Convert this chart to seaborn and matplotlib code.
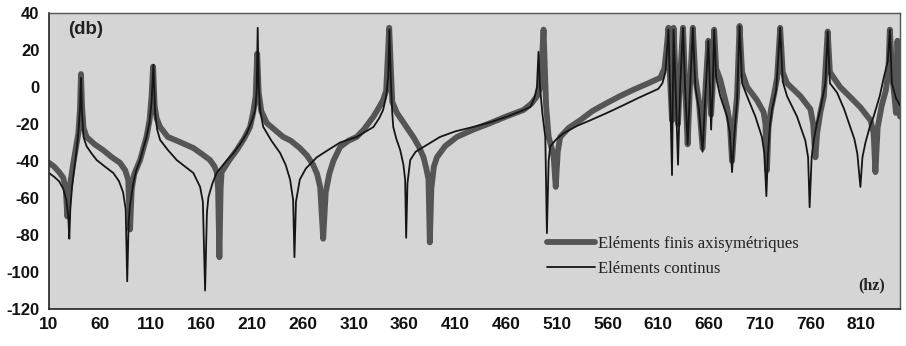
import matplotlib
matplotlib.use("Agg")
import matplotlib.pyplot as plt
import seaborn as sns

# Eléments finis axisymétriques (thick grey curve)
fe_hz = [10, 15, 20, 24, 26.5, 28, 29.5, 31.5, 34, 36.5, 38.9, 40.5, 41.5, 42.5, 44, 47, 55, 63, 72, 80,
         85, 88, 89.8, 91.5, 94, 99.7, 106, 109, 111, 112.5, 114, 116, 119.4, 127, 135.8, 144, 152.2, 160,
         168.6, 173, 175.2, 176.5, 177.8, 179, 180, 187, 195, 202, 208, 211, 213.5, 215, 216.5, 219,
         224.5, 232, 240.6, 248, 257, 264, 270, 274, 277, 280, 282.5, 286, 290, 296.7, 305, 313, 320,
         329.5, 335, 339, 342, 345, 348, 352.6, 360, 368.7, 374, 378.8, 381.5, 383.7, 385, 386.5, 389,
         392, 400, 411.7, 428, 444.5, 460, 477.3, 485, 490.5, 494, 497, 499.5, 502, 505, 507, 509, 511,
         513.4, 522, 533, 545, 559.5, 572, 585, 600, 612, 616, 618, 620, 621.5, 623.5, 625, 627, 629.4,
         631.5, 634.3, 636.5, 638.9, 641, 644, 646.5, 650, 653.6, 656, 659.3, 661, 662, 663.5, 665, 667,
         671, 677.7, 680.5, 682.6, 685, 687.5, 690, 692.5, 697.4, 707, 713.7, 715.5, 717, 718.5, 721,
         724, 727, 730, 732.5, 736.8, 750, 759.8, 762.5, 764.7, 766.4, 769.5, 773, 776.8, 779, 789, 800,
         809, 819, 822, 823.8, 826, 830, 834, 836.5, 838, 840.5, 842.5, 844, 845.5, 847, 848]
fe_db = [-41, -43, -46, -49, -55, -70, -58, -50, -41, -33, -25, -12, 7, -10, -22, -27, -31, -34, -38, -41,
         -45, -50, -77, -55, -47, -39.5, -27, -18, -5, 11, -10, -17, -21.6, -27, -29, -31, -33, -36,
         -39.5, -43, -46, -55, -92, -55, -46, -40, -34, -28, -21.6, -14, -5, 18, -3, -13,
         -19.5, -23, -27, -29, -33, -37, -42, -47, -54, -82, -57, -47, -40, -32.4, -29, -27, -23,
         -16, -11, -7, -2, 32, -8, -14, -20, -27, -32, -38, -44, -50, -84, -55, -43,
         -38, -32, -27, -23, -19.5, -16, -12.4, -9, -5, 0, 31, -10, -27, -33, -38, -54, -35,
         -27, -22, -18, -13, -8.6, -5, -1.6, 2, 5, 10, 20, 32, 5, -18, 32, 5, -20,
         5, 32, 0, -31, -2, 32, 5, -8, -33, -5, 25, 0, -15, 0, 31, 10,
         4, -11, -20, -40, -20, -5, 33, 8, 0, -7, -13.6, -20, -45, -22, -12,
         -4, 5, 32, 8, 2, -5, -12, -20, -38, -25, -14, -5, 30, 8, 0, -6,
         -11, -18, -25, -46, -22, -10, -2, 8, 31, 5, -5, -14, 25, -5, -16]

# Eléments continus (thin black curve)
ce_hz = [10, 15, 20, 24, 27, 29, 30, 31, 32.7, 35, 37, 39, 40.5, 41.5, 42.5, 44, 47, 52, 57, 65, 73.4,
         79, 83, 85.5, 87, 88.5, 89.8, 93, 96, 99.7, 103, 106, 109, 111, 112.8, 114.5, 116.5, 119.4, 127,
         135.8, 144, 152.2, 158.8, 161.5, 163.7, 165.5, 167, 171, 175, 183, 191.6, 198, 204.8, 210, 213,
         214.5, 215.5, 216.5, 218, 221, 229, 237.6, 243, 247.4, 250.4, 251.7, 253.2, 257, 263, 273.7, 285,
         296.7, 313, 329.5, 335, 339, 342, 344, 345.2, 346.5, 348, 349, 352, 355.8, 359, 360.7, 361.7,
         363, 365.7, 371, 378.8, 395, 410, 427.7, 445, 461, 475, 484, 488, 490.5, 492, 493.5, 496, 498.7,
         500.3, 502, 503.6, 510, 516.7, 530, 543, 559.5, 575, 590, 600, 610, 614, 617, 620, 621.5, 623.5,
         625, 627, 629.4, 631.5, 634.3, 636.5, 638.9, 641, 644, 646.5, 650, 653.6, 656, 659.3, 661, 662,
         663.5, 665, 667, 671, 677.7, 680.5, 682.6, 685, 687.5, 690, 692.5, 697.4, 705.6, 712, 714.5,
         716.4, 718, 720, 722, 726, 730, 732.5, 736.8, 746.6, 754.8, 757.5, 759, 761, 763, 766, 769.6,
         774.5, 776.8, 779, 786, 793, 799, 803, 806, 809, 811, 814, 818, 822, 828, 832, 836, 838, 840,
         844, 848]
ce_db = [-46.5, -48.5, -51, -55, -61, -70, -82, -66, -54, -44, -35, -24, -12, 5, -14, -27, -32, -36, -39.5, -43, -46.5,
         -51, -57, -66, -105, -72, -64, -52, -45, -39.5, -33, -27, -19, -8, 12, -14, -23, -28.6, -34,
         -39.5, -43, -46.5, -54, -62, -110, -68, -59.5, -52, -46.5, -41, -35.7, -31, -25, -18, -12.4,
         -2, 32, 0, -13, -21.6, -29, -35.7, -42, -50, -61, -92, -62, -50, -44, -38, -34,
         -30, -27, -21.6, -17, -12.4, -5, 5, 31, 5, -14, -21.6, -28, -34, -42, -50, -81.5,
         -52, -39.5, -35, -32.4, -27, -24, -21.6, -19, -16, -13, -10.8, -6, 0, 19, 0, -15, -27,
         -79, -40, -32, -28, -25, -21, -18, -14, -10, -6, -3.5, -1, 2, 8, 31, 0, -47.6,
         31, 0, -42, 0, 32, -2, -31, -4, 32, 0, -12, -35, -8, 25, -3, -23,
         -3, 31, 5, -5, -16, -25, -46, -25, -8, 33, 2, -5, -16, -27, -36,
         -59, -36, -20, -12, -2, 32, 3, -5, -16, -29, -38, -65, -38, -29, -20, -12,
         2, 30, 2, -3, -12, -21.6, -28, -36, -54, -38, -30, -22, -16, -5, 5, 14, 31, 2,
         -6, -10]

x_ticks = list(range(10, 811, 50))
y_ticks = list(range(-120, 41, 20))

sns.set_theme(style="white")
plt.rcParams["font.family"] = ["Liberation Sans", "DejaVu Sans"]
plt.rcParams["axes.unicode_minus"] = False

fig = plt.figure(figsize=(9.06, 3.46), dpi=100)
ax = fig.add_axes([49 / 906, 1 - 309 / 346, 851 / 906, 296 / 346])
ax.set_facecolor("#d5d5d5")

sns.lineplot(x=fe_hz, y=fe_db, ax=ax, estimator=None, sort=False, color="#555555",
             linewidth=4.2, label="Eléments finis axisymétriques")
sns.lineplot(x=ce_hz, y=ce_db, ax=ax, estimator=None, sort=False, color="#151515",
             linewidth=1.3, label="Eléments continus")

ax.set_xlim(10, 848)
ax.set_ylim(-120, 40)
ax.set_xticks(x_ticks)
ax.set_yticks(y_ticks)
ax.tick_params(axis="both", direction="inout", length=6, width=1, color="#222222", pad=3)
ax.tick_params(axis="x", labelsize=12.5)
ax.tick_params(axis="y", labelsize=12, pad=4)
for lab in ax.get_xticklabels() + ax.get_yticklabels():
    lab.set_fontweight("bold")
    lab.set_color("#111111")

for side in ["left", "bottom"]:
    ax.spines[side].set_color("#222222")
    ax.spines[side].set_linewidth(1.2)
for side in ["top", "right"]:
    ax.spines[side].set_color("#555555")
    ax.spines[side].set_linewidth(1.0)
    ax.spines[side].set_linestyle((0, (1.5, 1)))

ax.text(0.022, 0.943, "(db)", transform=ax.transAxes, fontsize=13.5, fontweight="bold",
        va="center", ha="left", color="#222222")
ax.text(0.951, 0.081, "(hz)", transform=ax.transAxes, fontsize=11.5, fontweight="bold",
        va="center", ha="left", color="#222222", family="Liberation Serif")

leg = ax.legend(loc="upper left", bbox_to_anchor=(547 / 906, 1 - 236 / 346),
                bbox_transform=fig.transFigure, frameon=False, borderpad=0, borderaxespad=0,
                handlelength=2.9, handletextpad=0.15, labelspacing=0.55,
                prop={"family": "Liberation Serif", "size": 12})
for t in leg.get_texts():
    t.set_color("#222222")

ax.set_xlabel("")
ax.set_ylabel("")
fig.savefig("out.png", dpi=100)
